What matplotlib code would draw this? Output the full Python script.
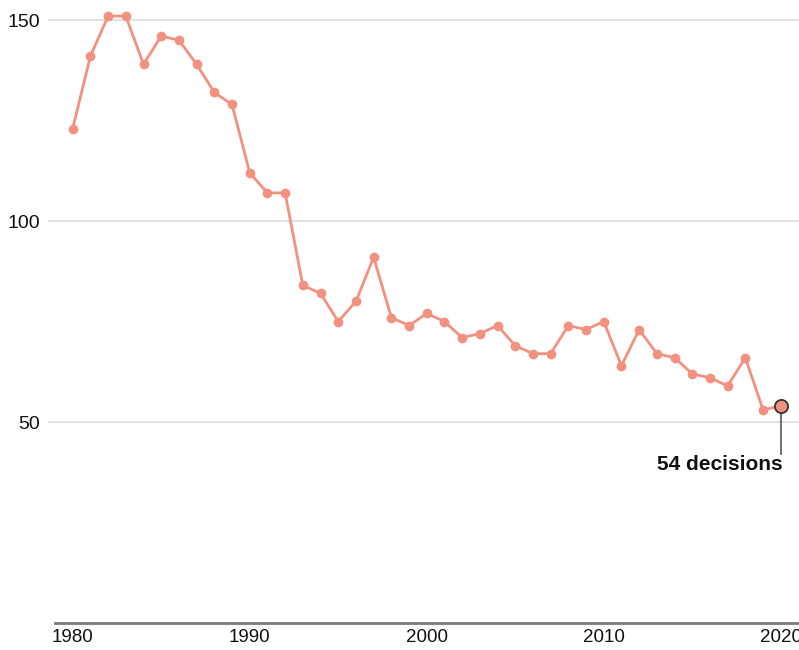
import matplotlib
matplotlib.use('Agg')
import matplotlib.pyplot as plt

years = list(range(1980, 2021))
decisions = [123, 141, 151, 151, 139, 146, 145, 139, 132, 129,
             112, 107, 107, 84, 82, 75, 80, 91, 76, 74,
             77, 75, 71, 72, 74, 69, 67, 67, 74, 73,
             75, 64, 73, 67, 66, 62, 61, 59, 66, 53,
             54]
x_ticks = [1980, 1990, 2000, 2010, 2020]
y_ticks = [50, 100, 150]
last_label = '54 decisions'

line_color = '#f2917f'

plt.rcParams['font.family'] = ['Liberation Sans', 'DejaVu Sans']

fig = plt.figure(figsize=(7.99, 6.5), dpi=100)
ax = fig.add_axes([55 / 799, 27 / 650, 744 / 799, 615 / 650])

ax.set_xlim(1979.0, 2021.03)
ax.set_ylim(0, 153)

# horizontal grid only
ax.set_yticks(y_ticks)
ax.grid(axis='y', color='#dddddd', linewidth=1.2)
ax.set_axisbelow(True)
for side in ['top', 'right', 'left']:
    ax.spines[side].set_visible(False)
ax.spines['bottom'].set_color('#7a7a7a')
ax.spines['bottom'].set_linewidth(2)

ax.set_xticks(x_ticks)
ax.set_xticklabels([str(y) for y in x_ticks])
ax.tick_params(axis='x', length=0, pad=4, labelsize=13.5, labelcolor='#111111')
ax.tick_params(axis='y', length=5, color='#dddddd', width=1.2, pad=6,
               labelsize=14, labelcolor='#111111')

ax.plot(years, decisions, color=line_color, linewidth=2.0, marker='o',
        markersize=7, markeredgewidth=0, zorder=3)

# callout for the latest year
ax.plot([years[-1], years[-1]], [decisions[-1], 42], color='#555555',
        linewidth=1.2, zorder=2)
ax.plot([years[-1]], [decisions[-1]], marker='o', markersize=9.5,
        markerfacecolor=line_color, markeredgecolor='#333333',
        markeredgewidth=1.3, zorder=4, clip_on=False)
ax.text(years[-1] + 0.1, 39.4, last_label, ha='right', va='center',
        fontsize=15, fontweight='bold', color='#111111')

fig.savefig('out.png', dpi=100)
